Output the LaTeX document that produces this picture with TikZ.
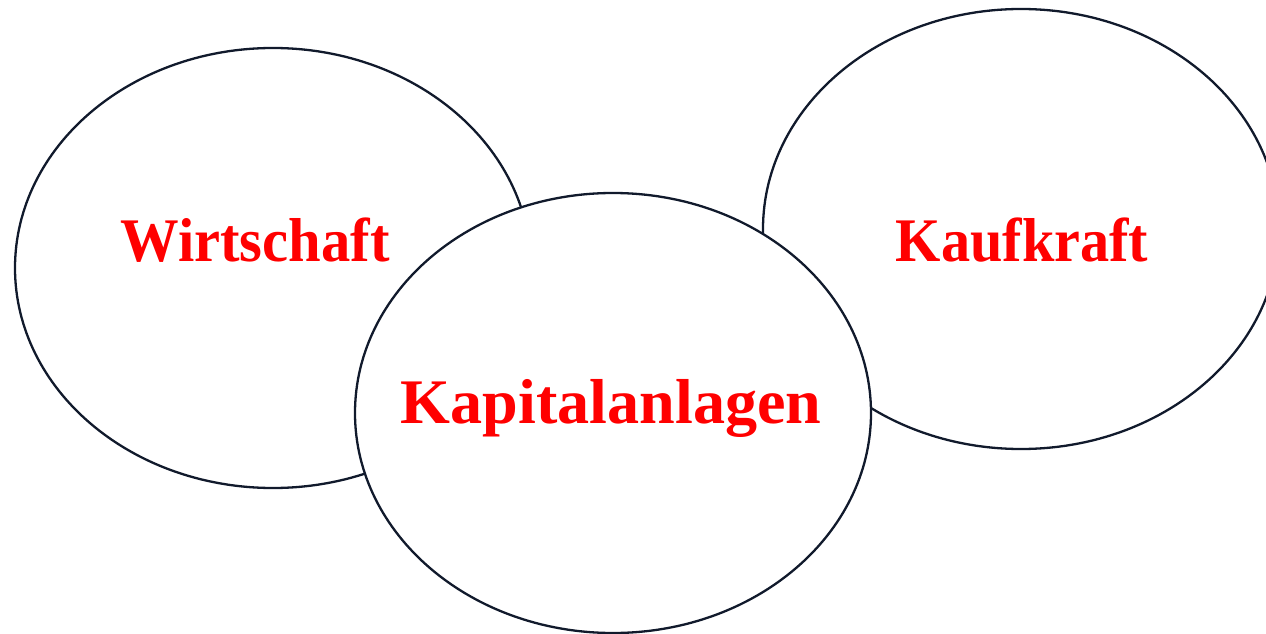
\documentclass[tikz,border=0pt]{standalone}
\usepackage{fontspec}
\setmainfont{Liberation Serif}
\definecolor{edge}{HTML}{111A2C}
\definecolor{lbl}{HTML}{FF0000}
\begin{document}
\begin{tikzpicture}[x=1pt,y=1pt,
  blob/.style={draw=edge,line width=2.3pt,fill=white},
  lab/.style={text=lbl,font=\fontsize{62}{62}\selectfont\bfseries,inner sep=0pt,anchor=base}]
\useasboundingbox (0,0) rectangle (1266,633);
\begin{scope}
\clip (0,0) rectangle (1266,633);
\draw[blob] (273,365) ellipse [x radius=258,y radius=220];
\draw[blob] (1021,404) ellipse [x radius=258,y radius=220];
\draw[blob] (613,220) ellipse [x radius=258,y radius=220];
\end{scope}
\node[lab,xscale=0.945] (w) at (255,371) {Wirtschaft};
\node[lab,xscale=0.94] (k) at (1022,371) {Kaufkraft};
\node[lab,font=\fontsize{63.5}{63.5}\selectfont\bfseries,xscale=1.01] (c) at (611,210) {Kapitalanlagen};
\end{tikzpicture}
\end{document}
